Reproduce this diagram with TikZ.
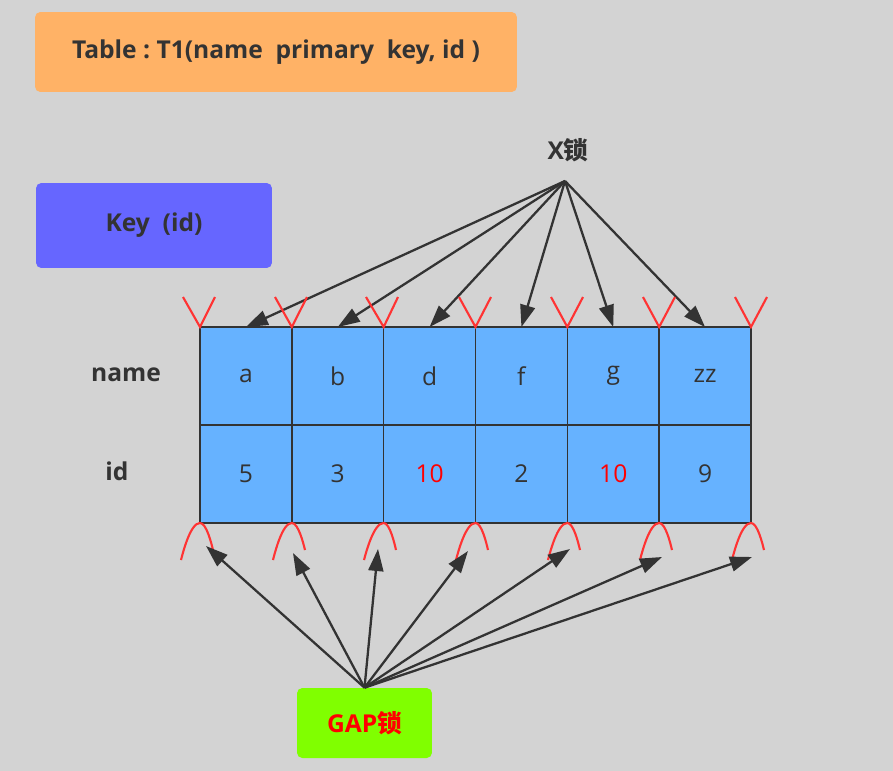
\documentclass[tikz,border=0pt]{standalone}
\usepackage{fontspec}
\setmainfont{Open Sans}
\newfontfamily\cjk{Noto Sans CJK SC}
\usetikzlibrary{positioning,arrows.meta}
\definecolor{bggray}{RGB}{211,211,211}
\definecolor{txtgray}{RGB}{51,51,51}
\definecolor{tblorange}{RGB}{255,178,102}
\definecolor{keyblue}{RGB}{102,102,255}
\definecolor{cellblue}{RGB}{102,178,255}
\definecolor{gapgreen}{RGB}{128,255,0}
\definecolor{markred}{RGB}{255,51,51}

\begin{document}
\begin{tikzpicture}[
  x=0.02cm, y=-0.02cm,
  font=\fontsize{14}{16}\selectfont, text=txtgray,
  box/.style={rounded corners=3pt, align=center, inner sep=0pt, font=\fontsize{14}{16}\selectfont\bfseries},
  cell/.style={draw=txtgray, thick, fill=cellblue, minimum width=1.837cm, minimum height=1.96cm, inner sep=0pt, outer sep=0pt},
  lab/.style={font=\fontsize{14}{16}\selectfont\bfseries},
  arr/.style={-{Triangle[length=4.4mm, width=3mm]}, draw=txtgray, line width=1.3pt},
  gapmark/.style={draw=markred, line width=1.2pt}]
% ---- background ----
\fill[bggray] (0,0) rectangle (893,771);
% ---- headers ----
\node[box, fill=tblorange, minimum width=9.64cm, minimum height=1.6cm] (tbl) at (276,52)
  {Table\ :\ T1(name\ \ primary\ \ key, id )};
\node[box, fill=keyblue, minimum width=4.72cm, minimum height=1.7cm] (key) at (154,225.5)
  {Key\ \ (id)};
% ---- index rows ----
\node[cell, anchor=north west] (na) at (200,327) {a};
\node[cell, right=0pt of na] (nb) {b};
\node[cell, right=0pt of nb] (nd) {d};
\node[cell, right=0pt of nd] (nf) {f};
\node[cell, right=0pt of nf] (ng) {g};
\node[cell, right=0pt of ng] (nzz) {zz};
\node[cell, below=0pt of na] (i5) {5};
\node[cell, below=0pt of nb] (i3) {3};
\node[cell, below=0pt of nd, text=red] (i10a) {10};
\node[cell, below=0pt of nf] (i2) {2};
\node[cell, below=0pt of ng, text=red] (i10b) {10};
\node[cell, below=0pt of nzz] (i9) {9};
\node[lab] (namelab) at (126,375) {name};
\node[lab] (idlab) at (117,471) {id};
% ---- record locks (X) ----
\node[lab] (xlock) at (568,150) {X{\cjk\bfseries 锁}};
\coordinate (xsrc) at (565,181);
\draw[arr] (xsrc) -- (na.north);
\draw[arr] (xsrc) -- (nb.north);
\draw[arr] (xsrc) -- (nd.north);
\draw[arr] (xsrc) -- (nf.north);
\draw[arr] (xsrc) -- (ng.north);
\draw[arr] (xsrc) -- (nzz.north);
% top gap marks
\draw[gapmark] (183,297) -- (na.north west) -- (215,297);
\draw[gapmark] (275,297) -- (na.north east) -- (307,297);
\draw[gapmark] (366,297) -- (nb.north east) -- (398,297);
\draw[gapmark] (459,297) -- (nd.north east) -- (491,297);
\draw[gapmark] (551,297) -- (nf.north east) -- (583,297);
\draw[gapmark] (643,297) -- (ng.north east) -- (675,297);
\draw[gapmark] (735,297) -- (nzz.north east) -- (767,297);
% bottom gap marks
\draw[gapmark] (181,560) parabola bend (i5.south west) (213,550);
\draw[gapmark] (273,560) parabola bend (i5.south east) (305,550);
\draw[gapmark] (364,560) parabola bend (i3.south east) (396,550);
\draw[gapmark] (456,560) parabola bend (i10a.south east) (488,550);
\draw[gapmark] (548,560) parabola bend (i2.south east) (580,550);
\draw[gapmark] (640,560) parabola bend (i10b.south east) (672,550);
\draw[gapmark] (732,560) parabola bend (i9.south east) (764,550);
% ---- gap locks ----
\node[box, fill=gapgreen, text=red, minimum width=2.7cm, minimum height=1.4cm] (gap) at (364.5,723)
  {GAP{\cjk\bfseries 锁}};
\coordinate (g1) at (206,546);
\coordinate (g2) at (293,553);
\coordinate (g3) at (378,549);
\coordinate (g4) at (468,551);
\coordinate (g5) at (570,549);
\coordinate (g6) at (662,557);
\coordinate (g7) at (752,557);
\draw[arr] (gap.north) -- (g1);
\draw[arr] (gap.north) -- (g2);
\draw[arr] (gap.north) -- (g3);
\draw[arr] (gap.north) -- (g4);
\draw[arr] (gap.north) -- (g5);
\draw[arr] (gap.north) -- (g6);
\draw[arr] (gap.north) -- (g7);
\end{tikzpicture}
\end{document}
